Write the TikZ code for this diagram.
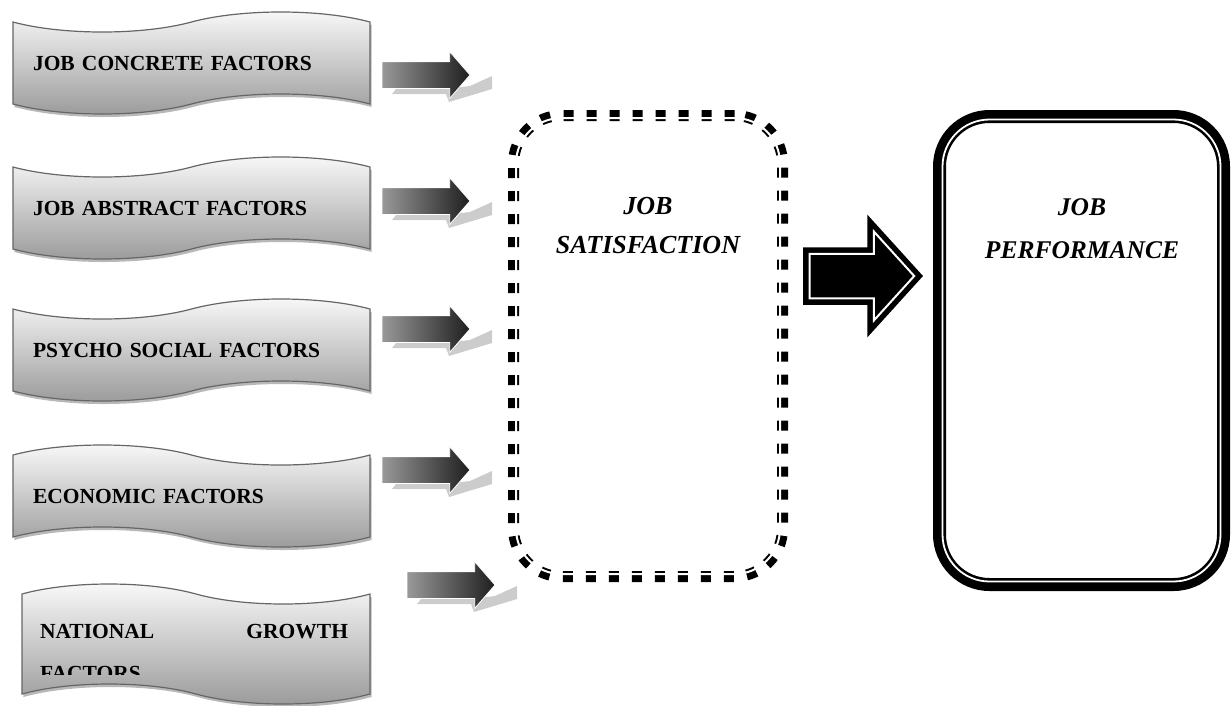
\documentclass[tikz,border=0pt]{standalone}
\usepackage{fontspec}
\setmainfont{Liberation Serif}
\usetikzlibrary{shapes.symbols,shapes.arrows,shadows,positioning}

\begin{document}
\begin{tikzpicture}[x=1pt,y=-1pt,
  every node/.style={outer sep=0pt},
  wave/.style={tape,draw=black!60,line width=1.2pt,top color=black!2,bottom color=black!40,
    minimum width=357pt,minimum height=102pt,tape bend height=20pt,inner sep=0pt,
    text width=317pt,align=left,font=\fontsize{21.5}{25}\selectfont\bfseries,
    drop shadow={shadow xshift=1.5pt,shadow yshift=-3pt,fill=black!28,opacity=1}},
  wavein/.style={wave,tape bend top=in and out,tape bend bottom=in and out},
  waveout/.style={wave,tape bend top=out and in,tape bend bottom=out and in},
  arr/.style={single arrow,left color=black!40,right color=black!88,draw=white,line width=0.8pt,
    inner xsep=0pt,inner ysep=13pt,minimum height=88pt,
    single arrow head extend=10pt,single arrow tip angle=98},
  arrshade/.style={fill=black!20},
  bigarr/.style={single arrow,draw=black,fill=black,line width=5.5pt,double=white,double distance=2pt,
    inner xsep=0pt,inner ysep=19.5pt,minimum height=104.7pt,
    single arrow head extend=22.2pt,single arrow tip angle=95.6},
  satbox/.style={rectangle,draw=black,line width=11pt,dash pattern=on 10pt off 13pt,
    rounded corners=48pt,minimum width=269pt,minimum height=461pt},
  perfbox/.style={rectangle,draw=black,line width=13pt,rounded corners=50pt,
    minimum width=284pt,minimum height=468pt},
  biglbl/.style={align=center,inner sep=0pt,font=\fontsize{26}{39}\selectfont\bfseries\itshape}]
\useasboundingbox (0,0) rectangle (1231,705);

% factor banners
\node[wavein] (f1) at (191.5,63) {JOB CONCRETE FACTORS};
\node[wavein] (f2) at (191.5,208) {JOB ABSTRACT FACTORS};
\node[wavein] (f3) at (191.5,350) {PSYCHO SOCIAL FACTORS};
\node[waveout] (f4) at (191.5,496) {ECONOMIC FACTORS};
\node[waveout,minimum width=348pt,minimum height=120pt] (f5) at (196,644) {};
\begin{scope}
  \clip (22,590) rectangle (370,674);
  \node[anchor=north west,inner sep=0pt,text width=308pt,align=left,
    font=\fontsize{21.5}{42}\selectfont\bfseries] (f5t) at (40,624) {NATIONAL\hfill GROWTH\\FACTORS};
\end{scope}

% small arrows with their shadows
\foreach \i/\ax/\ay in {1/382/75,2/382/201,3/382/329,4/382/470,5/407/585}{
  \coordinate (t\i) at (\ax,\ay);
  \fill[arrshade,shift={(t\i)}] (10,19) -- (64,19) -- (67,27) -- (110,14) -- (110,1)
    -- (88,11) -- (64,14) -- (14,14) -- cycle;
  \node[arr,anchor=tail] (a\i) at (t\i) {};
}

% job satisfaction
\node[satbox] (sat) at (648,346) {};
\draw[white,line width=2pt,rounded corners=45.5pt]
  ([shift={(2.5,2.5)}]sat.north west) rectangle ([shift={(-2.5,-2.5)}]sat.south east);
\node[biglbl] (satl) at (648,226) {JOB\\SATISFACTION};

% job performance
\node[perfbox] (perf) at (1081.5,350.5) {};
\draw[white,line width=1.8pt,rounded corners=47pt]
  ([shift={(3,3)}]perf.north west) rectangle ([shift={(-3,-3)}]perf.south east);
\node[biglbl,font=\fontsize{25.5}{43}\selectfont\bfseries\itshape] (perfl) at (1082,229) {JOB\\PERFORMANCE};

\node[bigarr,anchor=tail] (big) at (809.5,276) {};
\end{tikzpicture}
\end{document}
